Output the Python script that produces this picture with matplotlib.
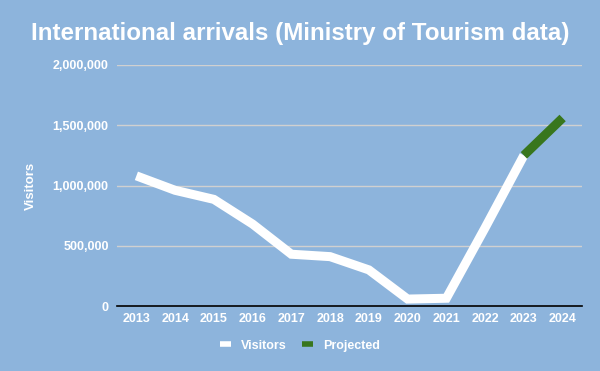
import matplotlib
matplotlib.use("Agg")
import matplotlib.pyplot as plt
import numpy as np

years = ["2013", "2014", "2015", "2016", "2017", "2018", "2019", "2020", "2021", "2022", "2023", "2024"]
visitors = [1080000, 960000, 885000, 680000, 430000, 410000, 300000, 58000, 65000, 650000, 1250000, np.nan]
projected = [np.nan] * 10 + [1250000, 1560000]
yticks = [0, 500000, 1000000, 1500000, 2000000]

bg = "#8DB4DC"
plt.rcParams['font.family'] = ['Liberation Sans', 'DejaVu Sans']

fig = plt.figure(figsize=(6, 3.71), dpi=100, facecolor=bg)
ax = fig.add_axes([0.195, 0.175, 0.775, 0.65], facecolor=bg)

x = np.arange(len(years))
ax.plot(x, visitors, color="white", lw=6.5, solid_capstyle="butt", solid_joinstyle="miter", label="Visitors", zorder=3)
ax.plot(x, projected, color="#38761D", lw=6.5, solid_capstyle="butt", label="Projected", zorder=4)

ax.set_xlim(-0.5, len(years) - 0.5)
ax.set_ylim(0, 2000000)
ax.set_yticks(yticks)
ax.set_yticklabels([f"{v:,}" for v in yticks])
ax.set_xticks(x)
ax.set_xticklabels(years)
ax.grid(axis="y", color="#D0D0D0", lw=1)
ax.set_axisbelow(True)
for s in ["top", "right", "left"]:
    ax.spines[s].set_visible(False)
ax.spines["bottom"].set_color("black")
ax.spines["bottom"].set_linewidth(1.2)
ax.spines["bottom"].set_zorder(5)
ax.tick_params(axis="both", length=0, labelsize=9, labelcolor="white")
ax.tick_params(axis="x", pad=5)
ax.tick_params(axis="y", pad=6)
for lab in ax.get_xticklabels() + ax.get_yticklabels():
    lab.set_fontweight("bold")

ax.set_ylabel("Visitors", color="white", fontsize=9.5, fontweight="bold", labelpad=11)
fig.text(0.5, 0.91, "International arrivals (Ministry of Tourism data)", ha="center", va="center",
         color="white", fontsize=17.4, fontweight="bold")

leg = fig.legend(loc="center", bbox_to_anchor=(0.5, 0.068), ncol=2, frameon=False,
                 handlelength=0.9, handletextpad=0.8, columnspacing=1.2,
                 prop={"size": 9, "weight": "bold"})
for t in leg.get_texts():
    t.set_color("white")
for h in leg.get_lines():
    h.set_linewidth(4)

fig.savefig("out.png", dpi=100, facecolor=bg)
